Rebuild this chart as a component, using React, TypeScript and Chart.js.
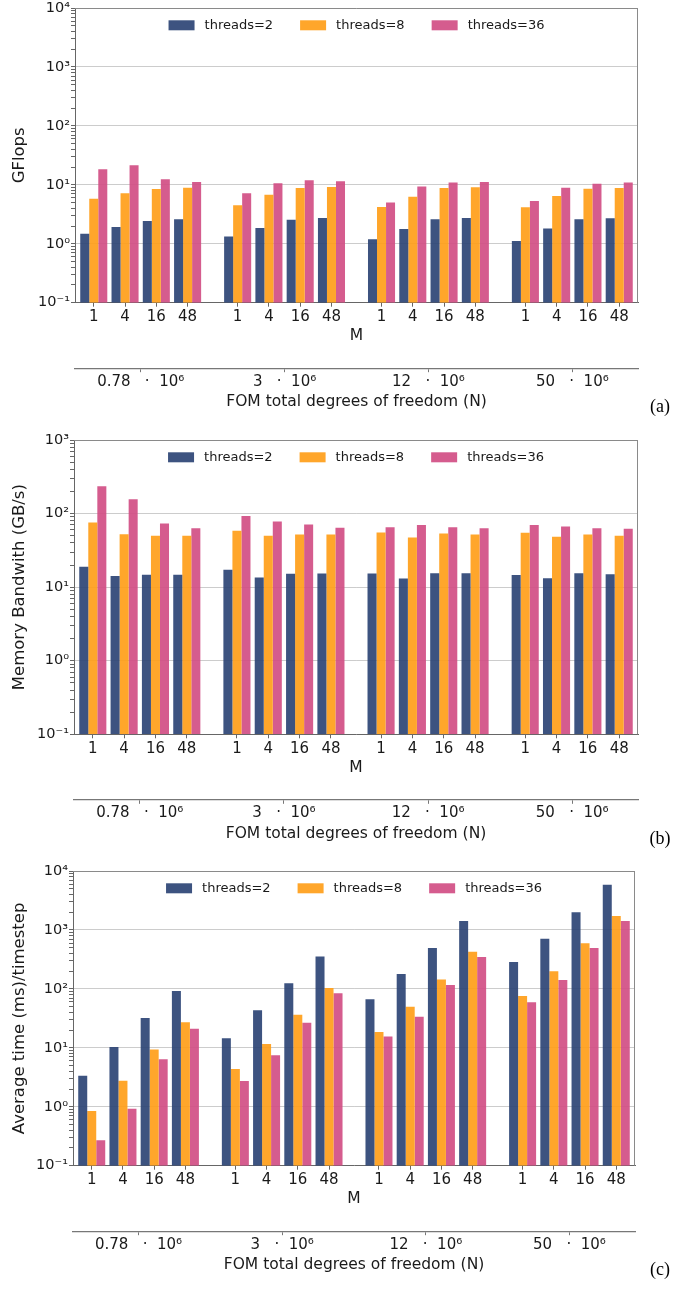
import React, { useEffect, useRef } from 'react';
import { Chart, registerables } from 'chart.js';

Chart.register(...registerables);

// ---------- data ----------
const M_LABELS = ['1', '4', '16', '48'];
const N_LABELS = ['0.78   ·  10⁶', '3   ·  10⁶', '12   ·  10⁶', '50   ·  10⁶'];
const SERIES_LABELS = ['threads=2', 'threads=8', 'threads=36'];

const GFLOPS_T2 = [1.48, 1.92, 2.43, 2.6, 1.33, 1.85, 2.55, 2.73, 1.19, 1.78, 2.6, 2.73, 1.11, 1.82, 2.6, 2.7];
const GFLOPS_T8 = [5.8, 7.2, 8.5, 8.9, 4.5, 6.8, 8.8, 9.2, 4.2, 6.3, 8.8, 9.1, 4.15, 6.45, 8.6, 8.8];
const GFLOPS_T36 = [18.3, 21.4, 12.4, 11.2, 7.2, 10.6, 11.9, 11.5, 5.0, 9.4, 10.9, 11.2, 5.3, 8.9, 10.4, 11.0];

const BW_T2 = [19.0, 14.2, 14.7, 14.7, 17.2, 13.5, 15.2, 15.3, 15.3, 13.1, 15.5, 15.5, 14.6, 13.2, 15.5, 15.0];
const BW_T8 = [75.5, 52.5, 49.8, 49.8, 58.2, 49.8, 51.9, 51.9, 55.3, 47.3, 53.5, 52.0, 54.7, 48.3, 52.0, 49.8];
const BW_T36 = [235, 157, 73.1, 63.3, 93, 77.8, 70.8, 64, 65.3, 70.1, 65.3, 63.3, 70.1, 66.6, 63, 62];

const TIME_T2 = [3.37, 10.3, 32, 92.5, 14.6, 43.3, 125, 355, 66.8, 178, 493, 1422, 285, 711, 1995, 5850];
const TIME_T8 = [0.845, 2.77, 9.4, 27.1, 4.39, 11.6, 36.5, 104, 18.5, 49.9, 144, 427, 76, 200, 592, 1730];
const TIME_T36 = [0.271, 0.925, 6.4, 21.1, 2.74, 7.5, 26.7, 84.5, 15.6, 33.7, 116, 347, 59.3, 142, 493, 1422];

// ---------- style ----------
const FONT = "'DejaVu Sans', sans-serif";
const SERIF = "'Liberation Serif', 'DejaVu Serif', serif";
const TEXT = '#1a1a1a';
const COLORS = ['rgba(45,68,117,0.92)', 'rgba(255,158,25,0.92)', 'rgba(209,78,132,0.92)'];
const GROUP_STRIDE = 4.6;
const X_MIN = -0.6;
const X_MAX = 17.4;

const POSITIONS: number[] = [];
for (let g = 0; g < N_LABELS.length; g++) {
  for (let i = 0; i < M_LABELS.length; i++) POSITIONS.push(g * GROUP_STRIDE + i);
}
const GROUP_CENTERS = N_LABELS.map((_, g) => {
  const p = POSITIONS.slice(g * 4, g * 4 + 4);
  return (p[0] + p[p.length - 1]) / 2;
});

const SUP: Record<string, string> = {
  '-': '⁻', '0': '⁰', '1': '¹', '2': '²', '3': '³', '4': '⁴', '5': '⁵', '6': '⁶', '7': '⁷', '8': '⁸', '9': '⁹',
};
const expLabel = (v: number) => {
  const e = Math.round(Math.log10(v));
  return '10' + String(e).split('').map((c) => SUP[c]).join('');
};
const isDecade = (v: number) => Math.abs(Math.log10(v) - Math.round(Math.log10(v))) < 1e-9;

type Panel = {
  yTitle: string;
  series: number[][];
  minExp: number;
  maxExp: number;
  canvasTop: number;
  canvasBottom: number;
  chartTop: number;
  chartBottom: number;
  left: number;
  right: number;
  tag: string;
};

const PANELS: Panel[] = [
  { yTitle: 'GFlops', series: [GFLOPS_T2, GFLOPS_T8, GFLOPS_T36], minExp: -1, maxExp: 4,
    canvasTop: 0, canvasBottom: 430, chartTop: 8, chartBottom: 302.7, left: 75, right: 638, tag: '(a)' },
  { yTitle: 'Memory Bandwith (GB/s)', series: [BW_T2, BW_T8, BW_T36], minExp: -1, maxExp: 3,
    canvasTop: 430, canvasBottom: 861, chartTop: 440, chartBottom: 734.3, left: 74, right: 638, tag: '(b)' },
  { yTitle: 'Average time (ms)/timestep', series: [TIME_T2, TIME_T8, TIME_T36], minExp: -1, maxExp: 4,
    canvasTop: 861, canvasBottom: 1291, chartTop: 871, chartBottom: 1165.7, left: 73, right: 635, tag: '(c)' },
];

function overlayPlugin(tag: string) {
  return {
    id: 'overlay',
    afterDraw(chart: any) {
      const { ctx, chartArea: a } = chart;
      ctx.save();
      // top and right spines
      ctx.strokeStyle = '#8a8a8a';
      ctx.lineWidth = 1;
      ctx.beginPath();
      ctx.moveTo(a.left, a.top + 0.5);
      ctx.lineTo(a.right, a.top + 0.5);
      ctx.moveTo(a.right - 0.5, a.top);
      ctx.lineTo(a.right - 0.5, a.bottom);
      ctx.stroke();

      // legend (inside the plot, centred at the top)
      const ds = chart.data.datasets;
      ctx.font = `13px ${FONT}`;
      const boxW = 26, boxH = 10, gap = 10, colGap = 27;
      const widths = ds.map((d: any) => ctx.measureText(d.label).width);
      const total = widths.reduce((s: number, w: number) => s + boxW + gap + w, 0) + colGap * (ds.length - 1);
      let x = (a.left + a.right) / 2 - total / 2;
      const cy = a.top + 17.3;
      ctx.textBaseline = 'middle';
      ctx.textAlign = 'left';
      ds.forEach((d: any, i: number) => {
        ctx.fillStyle = d.backgroundColor;
        ctx.fillRect(x, cy - boxH / 2, boxW, boxH);
        x += boxW + gap;
        ctx.fillStyle = TEXT;
        ctx.fillText(d.label, x, cy + 0.5);
        x += widths[i] + colGap;
      });

      // panel tag
      ctx.font = `18px ${SERIF}`;
      ctx.fillStyle = '#000';
      ctx.textAlign = 'center';
      ctx.fillText(tag, 660, a.top + 399);
      ctx.restore();
    },
  };
}

function PanelChart({ p }: { p: Panel }) {
  const ref = useRef<HTMLCanvasElement>(null);
  useEffect(() => {
    if (!ref.current) return;
    const xH = 65.5;
    const x2H = p.canvasBottom - (p.chartBottom + xH);
    const chart = new Chart(ref.current, {
      type: 'bar',
      data: {
        datasets: p.series.map((vals, s) => ({
          label: SERIES_LABELS[s],
          data: vals.map((v, k) => ({ x: POSITIONS[k], y: v })),
          backgroundColor: COLORS[s],
          borderWidth: 0,
          categoryPercentage: 0.865,
          barPercentage: 1,
          xAxisID: 'x',
          yAxisID: 'y',
        })),
      },
      options: {
        animation: false,
        responsive: false,
        events: [],
        layout: { padding: { top: p.chartTop - p.canvasTop, right: 676 - p.right, left: 0, bottom: 0 } },
        plugins: { legend: { display: false }, tooltip: { enabled: false } },
        scales: {
          x: {
            type: 'linear', position: 'bottom', min: X_MIN, max: X_MAX, offset: false, z: 1,
            afterBuildTicks: (s: any) => { s.ticks = POSITIONS.map((v) => ({ value: v })); },
            afterFit: (s: any) => { s.height = xH; s.paddingLeft = 0; s.paddingRight = 0; },
            grid: { drawOnChartArea: false, drawTicks: true, tickLength: 4, tickColor: '#666', offset: false },
            border: { display: true, color: '#666', width: 1 },
            ticks: {
              autoSkip: false, maxRotation: 0, padding: 1.5, color: TEXT,
              font: { family: FONT, size: 15 },
              callback: (_v: any, i: number) => M_LABELS[i % M_LABELS.length],
            },
            title: { display: true, text: 'M', color: TEXT, font: { family: FONT, size: 15.5 }, padding: { top: 0, bottom: 23 } },
          },
          x2: {
            type: 'linear', position: 'bottom', min: X_MIN, max: X_MAX, offset: false,
            afterBuildTicks: (s: any) => { s.ticks = GROUP_CENTERS.map((v) => ({ value: v })); },
            afterFit: (s: any) => { s.height = x2H; s.paddingLeft = 0; s.paddingRight = 0; },
            grid: { drawOnChartArea: false, drawTicks: true, tickLength: 4, tickColor: '#777', offset: false },
            border: { display: true, color: '#777', width: 1.3 },
            ticks: {
              autoSkip: false, maxRotation: 0, padding: 0.5, color: TEXT,
              font: { family: FONT, size: 15 },
              callback: (_v: any, i: number) => N_LABELS[i],
            },
            title: {
              display: true, text: 'FOM total degrees of freedom (N)', color: TEXT,
              font: { family: FONT, size: 15.5 }, padding: { top: 0, bottom: x2H - 34 - 9.3 },
            },
          },
          y: {
            type: 'logarithmic', position: 'left', min: Math.pow(10, p.minExp), max: Math.pow(10, p.maxExp), z: 1,
            afterBuildTicks: (s: any) => {
              const t: any[] = [];
              for (let e = p.minExp; e <= p.maxExp; e++) {
                const b = Math.pow(10, e);
                t.push({ value: b, major: true });
                if (e < p.maxExp) for (let k = 2; k <= 9; k++) t.push({ value: k * b, major: false });
              }
              s.ticks = t;
            },
            afterFit: (s: any) => { s.width = p.left; s.paddingTop = 0; s.paddingBottom = 0; },
            grid: {
              drawOnChartArea: true, drawTicks: true, tickLength: 4,
              color: (c: any) => (c.tick && isDecade(c.tick.value) ? 'rgba(0,0,0,0.2)' : 'rgba(0,0,0,0)'),
              tickColor: '#666',
            },
            border: { display: true, color: '#666', width: 1 },
            ticks: {
              autoSkip: false, padding: 1, color: TEXT, font: { family: FONT, size: 14.5 },
              callback: (v: any) => (isDecade(Number(v)) ? expLabel(Number(v)) : ''),
            },
            title: { display: true, text: p.yTitle, color: TEXT, font: { family: FONT, size: 16.5 }, padding: { top: 10, bottom: 0 } },
          },
        },
      } as any,
      plugins: [overlayPlugin(p.tag)],
    });
    return () => chart.destroy();
  }, [p]);
  const h = p.canvasBottom - p.canvasTop;
  return (
    <canvas
      ref={ref}
      width={676}
      height={h}
      style={{ position: 'absolute', left: 0, top: p.canvasTop, width: 676, height: h, display: 'block' }}
    />
  );
}

export default function App() {
  return (
    <div style={{ position: 'absolute', left: 0, top: 0, width: 676, height: 1291, background: '#fff' }}>
      {PANELS.map((p) => (
        <PanelChart key={p.tag} p={p} />
      ))}
    </div>
  );
}
